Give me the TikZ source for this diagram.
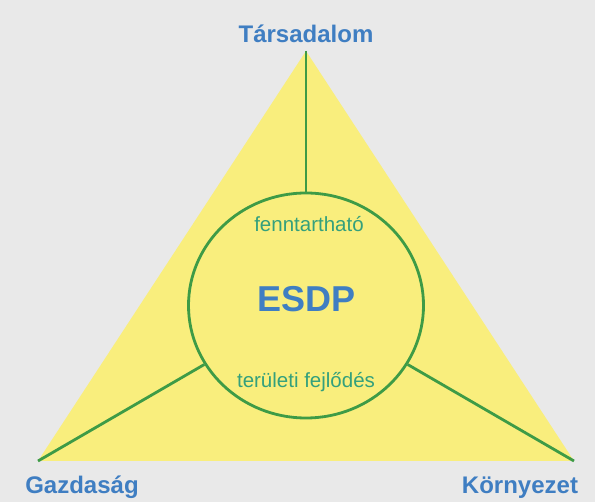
\documentclass[tikz,border=0pt]{standalone}
\usepackage{fontspec}
\setmainfont{Liberation Sans}
\usetikzlibrary{shapes.geometric}
\definecolor{bg}{HTML}{E9E9E9}
\definecolor{tri}{HTML}{F9EE7D}
\definecolor{lgreen}{HTML}{3E9B46}
\definecolor{lblue}{HTML}{3F7EC2}
\definecolor{tgreen}{HTML}{34A07C}
\tikzset{
  corner/.style={font=\fontsize{24}{24}\selectfont\bfseries, text=lblue, anchor=base, inner sep=0pt},
  inner/.style={font=\fontsize{20.5}{20.5}\selectfont, text=tgreen, anchor=base, inner sep=0pt},
  link/.style={draw=lgreen, line width=2.8pt},
}
\begin{document}
\begin{tikzpicture}[x=1pt,y=-1pt]
\fill[bg] (0,0) rectangle (595,502);
\useasboundingbox (0,0) rectangle (595,502);
\coordinate (A) at (306,51);
\coordinate (B) at (38,461);
\coordinate (C) at (574,461);
\fill[tri] (A) -- (B) -- (C) -- cycle;
\node[ellipse, minimum width=235pt, minimum height=225pt, inner sep=0pt, draw=lgreen, line width=2.8pt] (c) at (306,305.5) {};
\draw[link] (A) -- (c);
\draw[link] (B) -- (c);
\draw[link] (C) -- (c);
\node[font=\fontsize{36}{36}\selectfont\bfseries, text=lblue, anchor=base, inner sep=0pt] (e) at (306.5,312) {ESDP};
\node[inner] (f) at (309,232) {fenntartható};
\node[inner] (t) at (306,388) {területi fejlődés};
\node[corner] (ta) at (306,43) {Társadalom};
\node[corner] (ga) at (82,494) {Gazdaság};
\node[corner] (ko) at (520,494) {Környezet};
\end{tikzpicture}
\end{document}
